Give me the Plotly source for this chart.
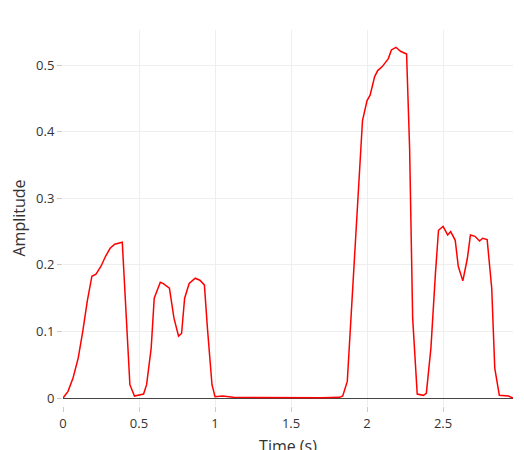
import plotly.graph_objects as go

time_s = [0, 0.033, 0.066, 0.1, 0.13, 0.16, 0.19, 0.217, 0.25, 0.28, 0.31, 0.34, 0.39,
          0.41, 0.44, 0.47, 0.53, 0.55, 0.58, 0.6, 0.64, 0.66, 0.7, 0.73, 0.76, 0.78,
          0.8, 0.83, 0.87, 0.9, 0.93, 0.95, 0.98, 1.0, 1.05, 1.12, 1.3, 1.5, 1.7, 1.82,
          1.84, 1.87, 1.89, 1.92, 1.95, 1.97, 2.0, 2.02, 2.05, 2.07, 2.1, 2.14, 2.16,
          2.19, 2.22, 2.26, 2.28, 2.3, 2.33, 2.37, 2.39, 2.42, 2.45, 2.47, 2.5, 2.53,
          2.55, 2.58, 2.6, 2.63, 2.66, 2.68, 2.71, 2.74, 2.76, 2.79, 2.82, 2.84, 2.87,
          2.93, 2.96]
amplitude = [0, 0.01, 0.03, 0.06, 0.1, 0.146, 0.183, 0.186, 0.198, 0.213, 0.225, 0.231, 0.234,
             0.15, 0.02, 0.003, 0.006, 0.02, 0.075, 0.15, 0.174, 0.172, 0.165, 0.12, 0.093, 0.097,
             0.15, 0.172, 0.18, 0.177, 0.17, 0.105, 0.02, 0.002, 0.003, 0.001, 0.0005, 0.0005, 0.0005, 0.001,
             0.003, 0.025, 0.105, 0.21, 0.33, 0.417, 0.447, 0.455, 0.483, 0.492, 0.498, 0.51, 0.523,
             0.527, 0.521, 0.517, 0.375, 0.12, 0.006, 0.004, 0.007, 0.075, 0.188, 0.252, 0.258, 0.245,
             0.25, 0.237, 0.198, 0.176, 0.21, 0.245, 0.243, 0.236, 0.24, 0.238, 0.165, 0.045, 0.004,
             0.003, 0.0]

fig = go.Figure(go.Scatter(x=time_s, y=amplitude, mode="lines",
                           line=dict(color="red", width=1.5)))
fig.update_layout(
    width=524, height=450, template="plotly_white", showlegend=False,
    margin=dict(l=55, r=19, t=22, b=52),
    font=dict(family="Open Sans", size=13, color="#333"),
    xaxis=dict(title=dict(text="Time (s)", standoff=10), range=[0, 2.96], dtick=0.5,
               showgrid=True, gridcolor="#eee", zeroline=False, showline=False,
               automargin=False, ticks="outside", ticklen=5, tickcolor="#ccc"),
    yaxis=dict(title=dict(text="Amplitude", standoff=8), range=[-0.012, 0.553], dtick=0.1,
               gridcolor="#eee", zeroline=True, zerolinecolor="#444", zerolinewidth=1,
               automargin=False, ticks="outside", ticklen=5, tickcolor="#ccc"),
)
fig.write_html("out.html")
